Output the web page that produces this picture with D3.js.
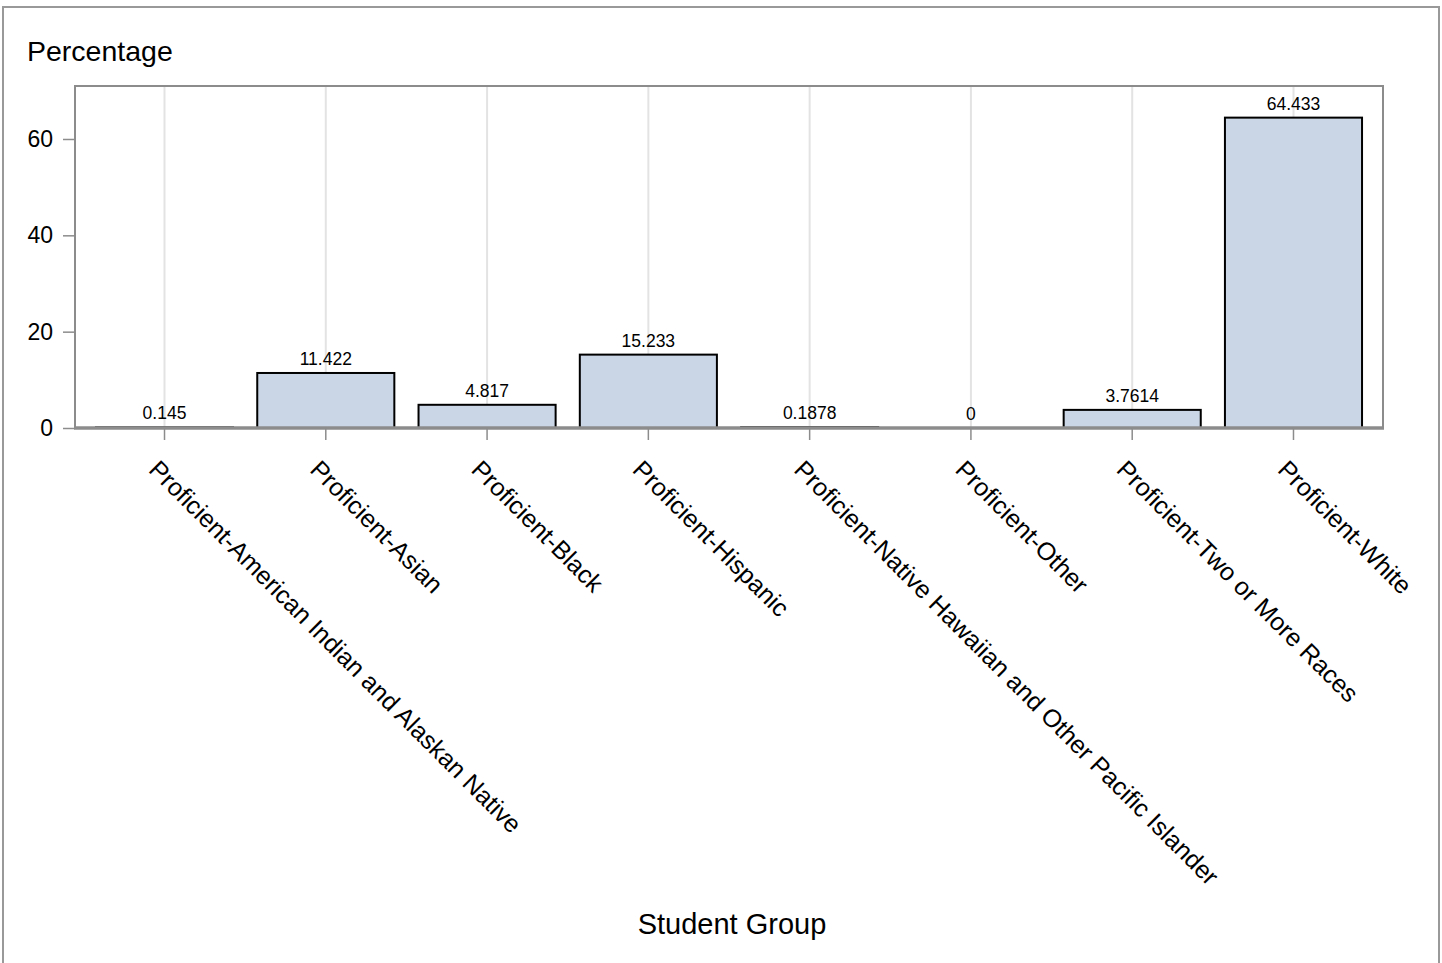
<!DOCTYPE html>
<html><head><meta charset="utf-8">
<script src="https://cdn.jsdelivr.net/npm/d3@7"></script>
<style>body{margin:0;background:#fff;}svg{display:block;font-family:"Liberation Sans",Arial,sans-serif;}</style>
</head><body>
<script>
const categories = ["Proficient-American Indian and Alaskan Native","Proficient-Asian","Proficient-Black","Proficient-Hispanic","Proficient-Native Hawaiian and Other Pacific Islander","Proficient-Other","Proficient-Two or More Races","Proficient-White"];
const values = [0.145, 11.422, 4.817, 15.233, 0.1878, 0, 3.7614, 64.433];
const valueLabels = ["0.145","11.422","4.817","15.233","0.1878","0","3.7614","64.433"];
const yTicks = [0, 20, 40, 60];

const W = 1442, H = 963;
const svg = d3.select("body").append("svg").attr("width", W).attr("height", H);
const L = 75, R = 1383, T = 86, B = 428;

svg.append("rect").attr("x", 3).attr("y", 7).attr("width", 1436).attr("height", 980)
  .attr("fill", "none").attr("stroke", "#999").attr("stroke-width", 2);

const x = d3.scaleBand().domain(categories).range([L, R]).paddingInner(0.15).paddingOuter(0.13);
const y = d3.scaleLinear().domain([0, 71]).range([B, T]);

// grid
svg.append("g").selectAll("line").data(categories).join("line")
  .attr("x1", d => x(d) + x.bandwidth()/2).attr("x2", d => x(d) + x.bandwidth()/2)
  .attr("y1", T).attr("y2", B).attr("stroke", "#e3e3e3").attr("stroke-width", 2);

// frame
svg.append("path").attr("d", `M${L},${B}V${T}H${R}V${B}`).attr("fill", "none")
  .attr("stroke", "#8c8c8c").attr("stroke-width", 2);

// bars
svg.append("g").selectAll("rect").data(values.map((v,i)=>({v,c:categories[i]}))).join("rect")
  .attr("x", d => x(d.c)).attr("width", x.bandwidth())
  .attr("y", d => y(d.v)).attr("height", d => y(0) - y(d.v))
  .attr("fill", "#cad5e5").attr("stroke", "#000").attr("stroke-width", 2);

// value labels
svg.append("g").selectAll("text").data(values).join("text")
  .attr("x", (d,i) => x(categories[i]) + x.bandwidth()/2)
  .attr("y", d => y(d) - 8)
  .attr("text-anchor", "middle").attr("font-size", 17.5).attr("fill", "#000")
  .text((d,i) => valueLabels[i]);

// x axis
const xAxis = svg.append("g").attr("transform", `translate(0,${B})`)
  .call(d3.axisBottom(x).tickSize(12).tickFormat(""));
xAxis.select(".domain").attr("stroke", "#8c8c8c").attr("stroke-width", 3.5).attr("d", `M${L-1},0H${R+1}`);
xAxis.selectAll(".tick line").attr("stroke", "#8c8c8c").attr("stroke-width", 1.5);

svg.append("g").selectAll("text").data(categories).join("text")
  .attr("transform", d => `translate(${x(d) + x.bandwidth()/2 - 17},${B + 43}) rotate(45)`)
  .attr("font-size", 25).attr("fill", "#000").text(d => d);

// y axis
const yAxis = svg.append("g").attr("transform", `translate(${L},0)`)
  .call(d3.axisLeft(y).tickValues(yTicks).tickSize(12).tickPadding(10));
yAxis.select(".domain").remove();
yAxis.selectAll(".tick line").attr("stroke", "#8c8c8c").attr("stroke-width", 1.5);
yAxis.selectAll(".tick text").attr("font-size", 23).attr("fill", "#000").attr("font-family", "Liberation Sans, Arial, sans-serif");

svg.append("text").attr("x", 27).attr("y", 61).attr("font-size", 28.5).text("Percentage");
svg.append("text").attr("x", 732).attr("y", 934).attr("text-anchor", "middle").attr("font-size", 29).text("Student Group");
</script>
</body></html>
